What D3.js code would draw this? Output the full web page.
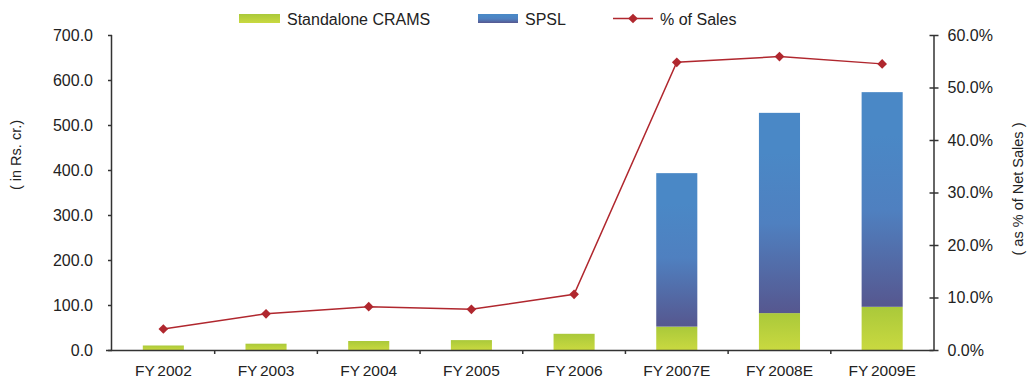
<!DOCTYPE html>
<html>
<head>
<meta charset="utf-8">
<script src="https://cdn.jsdelivr.net/npm/d3@7/dist/d3.min.js"></script>
<style>
  html, body { margin: 0; padding: 0; background: #fff; }
  svg { display: block; font-family: "Liberation Sans", Arial, sans-serif; }
</style>
</head>
<body>
<svg id="chart" width="1029" height="380"></svg>
<script>
// Fiscal years on the x axis
const years = ["FY2002", "FY2003", "FY2004", "FY2005", "FY2006", "FY2007E", "FY2008E", "FY2009E"];
// Standalone CRAMS revenue (Rs. cr.)
const cramsValues = [10, 14, 20, 22, 36, 52, 82, 96];
// SPSL revenue stacked on top (Rs. cr.)
const spslValues = [0, 0, 0, 0, 0, 341, 445, 477];
// CRAMS share of net sales (%)
const salesShare = [4.0, 6.9, 8.25, 7.75, 10.6, 54.8, 55.9, 54.5];
// Axis ticks
const leftTicks = [0, 100, 200, 300, 400, 500, 600, 700];
const rightTicks = [0, 10, 20, 30, 40, 50, 60];
const legendLabels = ["Standalone CRAMS", "SPSL", "% of Sales"];

const svg = d3.select("#chart");
const W = 1029, H = 380;
const m = { left: 112, right: W - 933.5, top: 35, bottom: H - 350 };

const x = d3.scaleBand().domain(years).range([m.left, W - m.right]).paddingInner(0.6).paddingOuter(0.3);
const xOuter = d3.scaleBand().domain(years).range([m.left, W - m.right]).padding(0);
const yL = d3.scaleLinear().domain([0, 700]).range([H - m.bottom, m.top]);
const yR = d3.scaleLinear().domain([0, 60]).range([H - m.bottom, m.top]);

// Gradients
const defs = svg.append("defs");
const gGreen = defs.append("linearGradient").attr("id", "gGreen").attr("x1", 0).attr("y1", 0).attr("x2", 0).attr("y2", 1);
gGreen.append("stop").attr("offset", "0%").attr("stop-color", "#aac93a");
gGreen.append("stop").attr("offset", "100%").attr("stop-color", "#c9d940");
const gBlue = defs.append("linearGradient").attr("id", "gBlue").attr("x1", 0).attr("y1", 0).attr("x2", 0).attr("y2", 1);
gBlue.append("stop").attr("offset", "0%").attr("stop-color", "#4a88c6");
gBlue.append("stop").attr("offset", "20%").attr("stop-color", "#4a88c6");
gBlue.append("stop").attr("offset", "55%").attr("stop-color", "#4f80c0");
gBlue.append("stop").attr("offset", "100%").attr("stop-color", "#56578f");

const stackData = years.map((yr, i) => ({ year: yr, crams: cramsValues[i], spsl: spslValues[i] }));

// CRAMS bars
svg.append("g").selectAll("rect").data(stackData).join("rect")
  .attr("x", d => x(d.year))
  .attr("width", x.bandwidth())
  .attr("y", d => yL(d.crams))
  .attr("height", d => yL(0) - yL(d.crams))
  .attr("fill", "url(#gGreen)");

// SPSL bars
svg.append("g").selectAll("rect").data(stackData.filter(d => d.spsl > 0)).join("rect")
  .attr("x", d => x(d.year))
  .attr("width", x.bandwidth())
  .attr("y", d => yL(d.crams + d.spsl))
  .attr("height", d => yL(d.crams) - yL(d.crams + d.spsl))
  .attr("fill", "url(#gBlue)");

// Axes
const axisColor = "#333";
const fontSize = 16;

const leftAxis = svg.append("g").attr("transform", `translate(${m.left},0)`)
  .call(d3.axisLeft(yL).tickValues(leftTicks).tickFormat(d3.format(".1f")).tickSize(4).tickPadding(15));
const rightAxis = svg.append("g").attr("transform", `translate(${W - m.right},0)`)
  .call(d3.axisRight(yR).tickValues(rightTicks).tickFormat(d => d3.format(".1f")(d) + "%").tickSize(5).tickPadding(9));
rightAxis.selectAll(".tick line").attr("x1", -4);

const bottomAxis = svg.append("g").attr("transform", `translate(0,${H - m.bottom})`)
  .call(d3.axisBottom(xOuter).tickSize(0).tickPadding(14.5));

[leftAxis, rightAxis, bottomAxis].forEach(a => {
  a.select(".domain").attr("stroke", axisColor).attr("stroke-width", 1.5);
  a.selectAll(".tick line").attr("stroke", axisColor).attr("stroke-width", 1.5);
  a.selectAll("text").attr("fill", "#222").style("font-size", fontSize + "px")
    .style("font-family", "'Liberation Sans', Arial, sans-serif");
});
bottomAxis.selectAll("text").style("font-size", "15.5px");
// Split "FY" from the year digits with a small gap
bottomAxis.selectAll(".tick text").each(function (d) {
  const t = d3.select(this).text("");
  t.append("tspan").text(d.slice(0, 2));
  t.append("tspan").attr("dx", 2.5).text(d.slice(2));
});
bottomAxis.select(".domain").attr("d", `M${m.left - 6},0.5H${W - m.right}`);
leftAxis.select(".domain").attr("d", `M-0.5,${yL(0) + 1}V${m.top}`);
rightAxis.select(".domain").attr("d", `M0.5,${yR(0) + 1}V${m.top}`);

// Category separators below the x axis
svg.append("g").selectAll("line").data(years.slice(1)).join("line")
  .attr("x1", d => xOuter(d)).attr("x2", d => xOuter(d))
  .attr("y1", H - m.bottom).attr("y2", H - m.bottom + 4)
  .attr("stroke", axisColor).attr("stroke-width", 1.5);

// Axis titles
svg.append("text")
  .attr("transform", `translate(21,155) rotate(-90)`)
  .attr("text-anchor", "middle").attr("fill", "#222").style("font-size", "14.5px")
  .text("( in Rs. cr.)");
svg.append("text")
  .attr("transform", `translate(1023,189) rotate(-90)`)
  .attr("text-anchor", "middle").attr("fill", "#222").style("font-size", "14.5px")
  .text("( as % of Net Sales )");

// Share of sales line
const lineColor = "#b0272e";
const pts = years.map((yr, i) => [x(yr) + x.bandwidth() / 2, yR(salesShare[i])]);
svg.append("path").attr("d", d3.line()(pts))
  .attr("fill", "none").attr("stroke", lineColor).attr("stroke-width", 1.5);
svg.append("g").selectAll("path").data(pts).join("path")
  .attr("transform", d => `translate(${d[0]},${d[1]})`)
  .attr("d", d3.symbol(d3.symbolDiamond2, 60)())
  .attr("fill", lineColor);

// Legend
const lg = svg.append("g");
lg.append("rect").attr("x", 239).attr("y", 14).attr("width", 41).attr("height", 9).attr("fill", "url(#gGreen)");
lg.append("text").attr("x", 287).attr("y", 24.5).style("font-size", fontSize + "px").attr("fill", "#222").text(legendLabels[0]);
lg.append("rect").attr("x", 478).attr("y", 14).attr("width", 40).attr("height", 9).attr("fill", "url(#gBlue)");
lg.append("text").attr("x", 525).attr("y", 24.5).style("font-size", fontSize + "px").attr("fill", "#222").text(legendLabels[1]);
lg.append("line").attr("x1", 613).attr("x2", 653).attr("y1", 18.5).attr("y2", 18.5).attr("stroke", lineColor).attr("stroke-width", 1.5);
lg.append("path").attr("transform", "translate(633,18.5)").attr("d", d3.symbol(d3.symbolDiamond2, 60)()).attr("fill", lineColor);
lg.append("text").attr("x", 660).attr("y", 24.5).style("font-size", fontSize + "px").attr("fill", "#222").text(legendLabels[2]);
</script>
</body>
</html>
